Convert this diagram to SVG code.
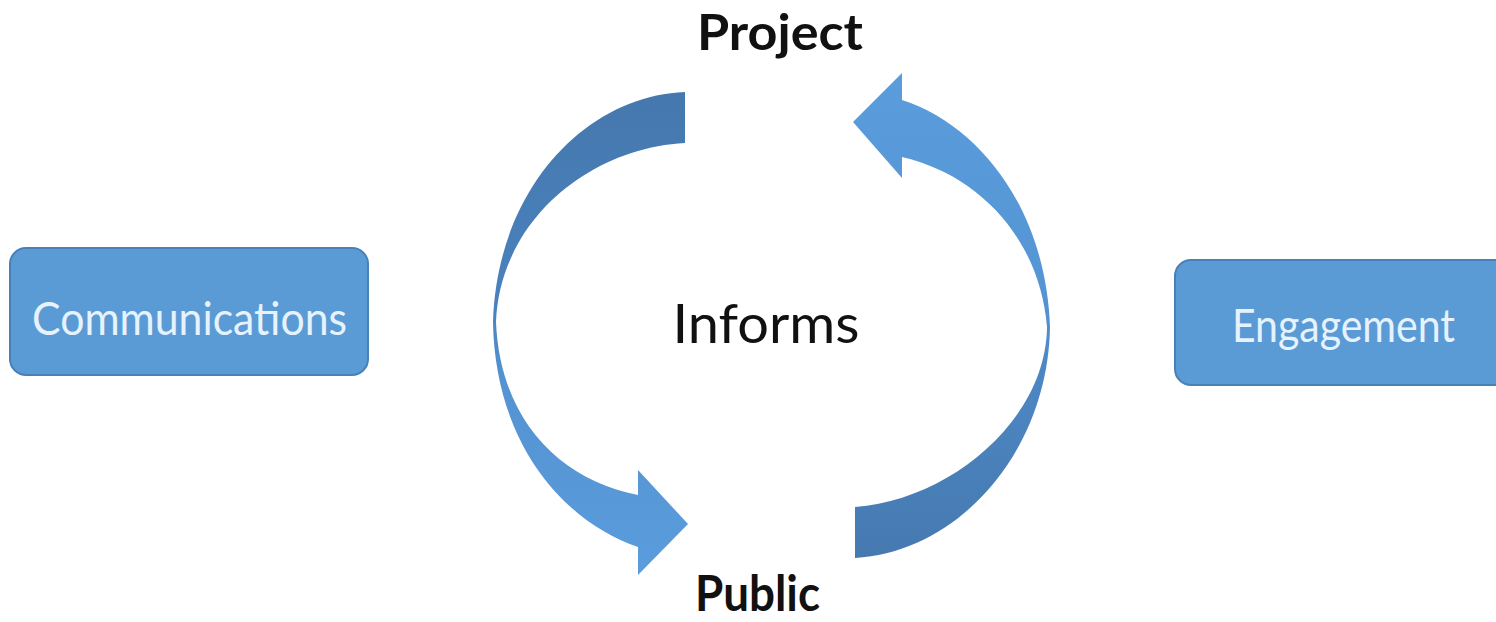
<svg xmlns="http://www.w3.org/2000/svg" width="1496" height="622" viewBox="0 0 1496 622">
  <defs>
    <style>
      .box { fill: #5b9bd5; stroke: #4a80b8; stroke-width: 2; }
      .boxtxt { font-family: Lato, "Open Sans", "Liberation Sans", sans-serif; font-size: 46px; fill: #e6f3ff; text-anchor: middle; }
      .lbl { font-family: Lato, "Open Sans", "Liberation Sans", sans-serif; font-weight: bold; font-size: 50px; fill: #111; text-anchor: middle; }
      .mid { font-family: Lato, "Open Sans", "Liberation Sans", sans-serif; font-size: 55px; fill: #111; text-anchor: middle; }
    </style>
    <linearGradient id="gL" x1="0" y1="0" x2="0" y2="1">
      <stop offset="0" stop-color="#4578ae"/>
      <stop offset="0.45" stop-color="#4a82bd"/>
      <stop offset="0.6" stop-color="#5593d2"/>
      <stop offset="1" stop-color="#5a9cdc"/>
    </linearGradient>
    <linearGradient id="gR" x1="0" y1="0" x2="0" y2="1">
      <stop offset="0" stop-color="#5a9cdc"/>
      <stop offset="0.45" stop-color="#5595d4"/>
      <stop offset="0.6" stop-color="#4d88c4"/>
      <stop offset="1" stop-color="#4679b0"/>
    </linearGradient>
  </defs>
  <rect width="1496" height="622" fill="#ffffff"/>
  <g id="connectors">
    <path id="arrow-left" fill="url(#gL)" d="M685,92 C585,96 497,190 493,322 C495,440 560,520 638,547 L638,575 L688,524 L638,470 L638,495 C560,480 500,420 496,322 C500,220 590,148 685,143 Z"/>
    <path id="arrow-right" fill="url(#gR)" d="M855,558 C960,552 1048,450 1050,327 C1046,210 980,125 902,100 L902,73 L853,122 L902,178 L902,157 C980,175 1040,240 1047,327 C1046,420 950,500 855,507 Z"/>
  </g>
  <g id="node-communications">
    <rect class="box" x="10" y="248" width="358" height="127" rx="16"/>
    <text class="boxtxt" x="189.5" y="335" textLength="315" lengthAdjust="spacingAndGlyphs">Communications</text>
  </g>
  <g id="node-engagement">
    <rect class="box" x="1175" y="260" width="340" height="125" rx="16"/>
    <text class="boxtxt" x="1343.5" y="342" textLength="223" lengthAdjust="spacingAndGlyphs">Engagement</text>
  </g>
  <g id="node-project">
    <text class="lbl" x="780" y="50" textLength="166" lengthAdjust="spacingAndGlyphs">Project</text>
  </g>
  <g id="node-public">
    <text class="lbl" x="757.5" y="611" textLength="125" lengthAdjust="spacingAndGlyphs">Public</text>
  </g>
  <g id="node-informs">
    <text class="mid" x="766" y="343" textLength="187" lengthAdjust="spacingAndGlyphs">Informs</text>
  </g>
</svg>
